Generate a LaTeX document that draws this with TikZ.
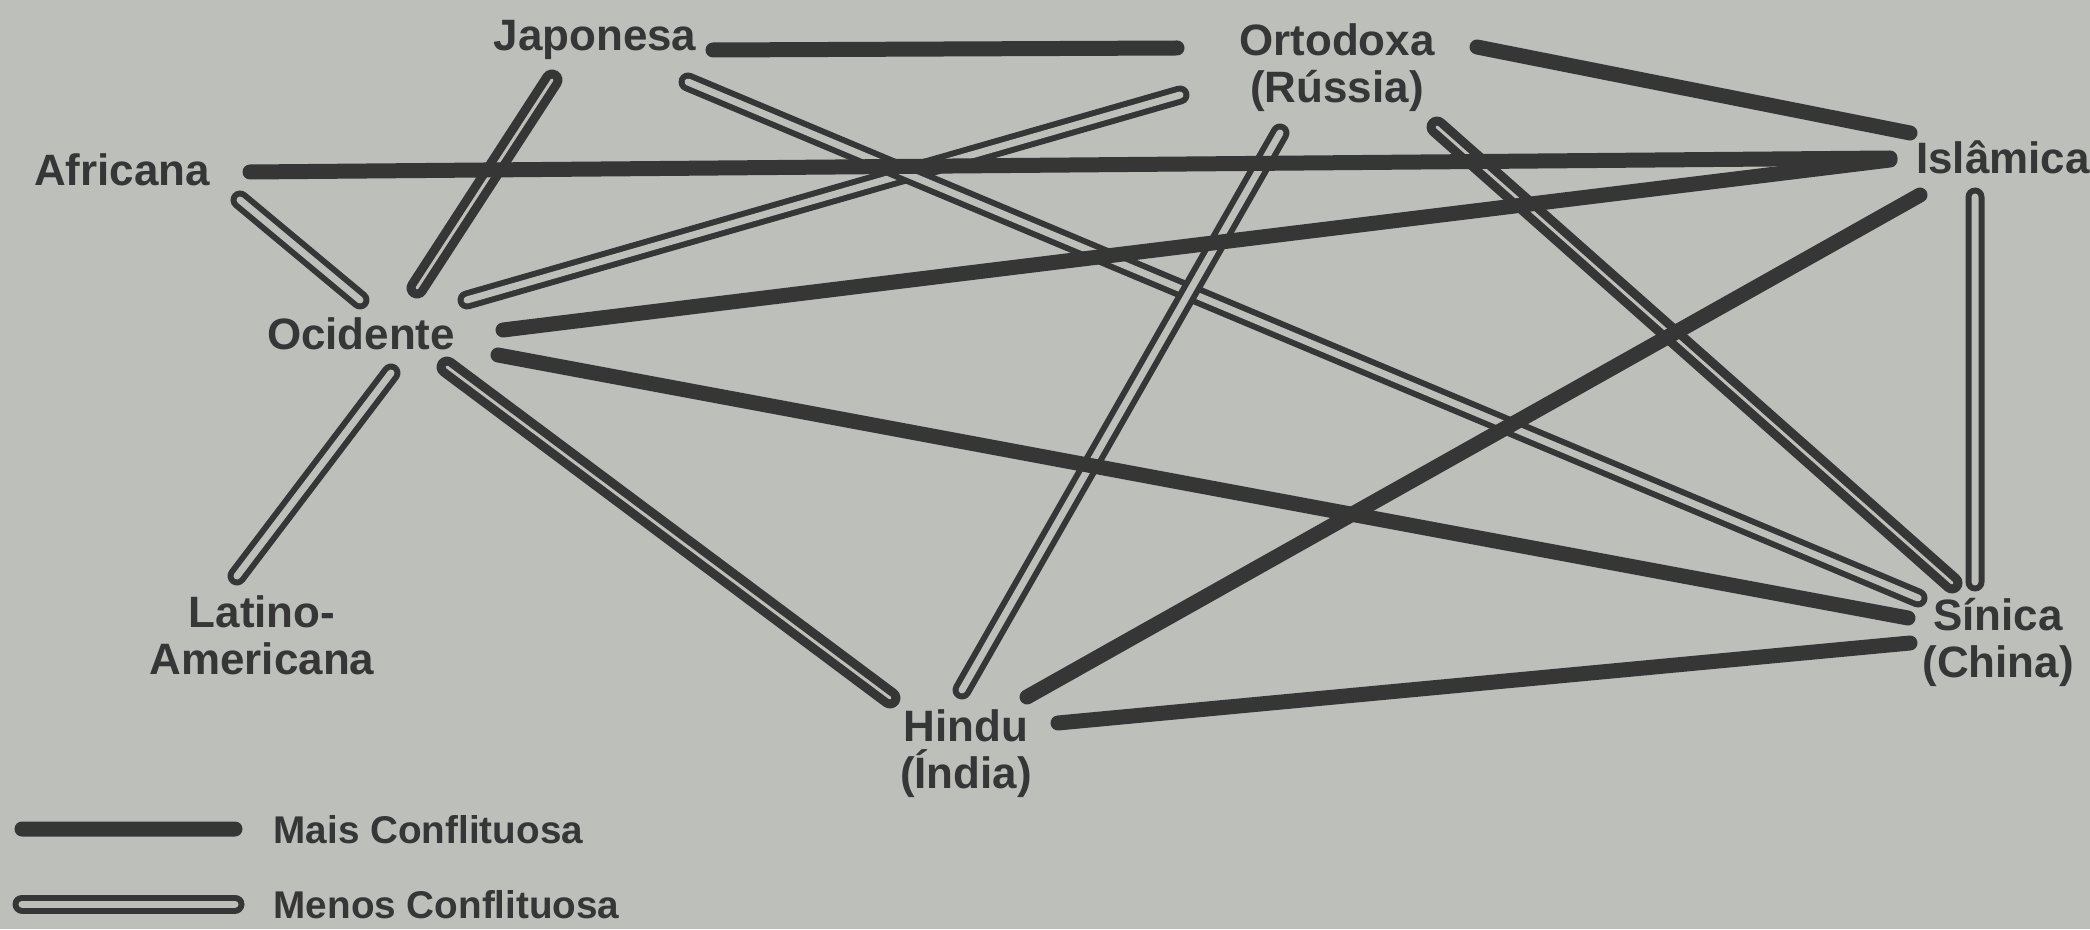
\documentclass[tikz,border=0pt]{standalone}
\usepackage{fontspec}
\setmainfont{Liberation Sans}
\usetikzlibrary{calc}
\definecolor{papel}{RGB}{189,191,187}
\definecolor{tinta}{RGB}{54,54,54}

\begin{document}
\begin{tikzpicture}[
    rotulo/.style={text=tinta, font=\bfseries\fontsize{12.5}{13.4}\selectfont, align=center, inner sep=0pt},
    mais/.style={draw=tinta, line width=0.15cm, line cap=round},
    menos/.style={draw=tinta, line width=0.06cm, double=papel, double distance=0.07cm, line cap=round},
    menosescura/.style={menos, line width=0.09cm, double distance=0.03cm}]
  \fill[papel] (0,0) rectangle (20.9,9.29);
  \useasboundingbox (0,0) rectangle (20.9,9.29);

  % civilizacoes
  \node[rotulo] (jap) at (5.95,8.89) {Japonesa};
  \node[rotulo] (ort) at (13.37,8.61) {Ortodoxa\\(Rússia)};
  \node[rotulo] (afr) at (1.22,7.59) {Africana};
  \node[rotulo] (isl) at (20.03,7.72) {Islâmica};
  \node[rotulo] (oci) at (3.61,5.95) {Ocidente};
  \node[rotulo] (lat) at (2.62,2.94) {Latino-\\Americana};
  \node[rotulo] (hin) at (9.66,1.75) {Hindu\\(Índia)};
  \node[rotulo] (sin) at (19.98,2.87) {Sínica\\(China)};

  % menos conflituosa
  \draw[menos] ($(afr)+(1.18,-0.30)$) -- ($(oci)+(-0.01,0.34)$);
  \draw[menosescura] ($(jap)+(-0.43,-0.40)$) -- ($(oci)+(0.56,0.46)$);
  \draw[menos] ($(oci)+(1.06,0.34)$) -- ($(ort)+(-1.57,-0.27)$);
  \draw[menos] ($(jap)+(0.93,-0.42)$) -- ($(sin)+(-0.80,0.44)$);
  \draw[menos] ($(ort)+(-0.57,-0.65)$) -- ($(hin)+(-0.04,0.64)$);
  \draw[menosescura] ($(ort)+(1.00,-0.59)$) -- ($(sin)+(-0.46,0.59)$);
  \draw[menos] ($(isl)+(-0.28,-0.40)$) -- ($(sin)+(-0.23,0.60)$);
  \draw[menosescura] ($(oci)+(0.86,-0.33)$) -- ($(hin)+(-0.76,0.56)$);
  \draw[menos] ($(oci)+(0.30,-0.39)$) -- ($(lat)+(-0.25,0.59)$);

  % mais conflituosa
  \draw[mais] ($(jap)+(1.18,-0.10)$) -- ($(ort)+(-1.60,0.20)$);
  \draw[mais] ($(ort)+(1.40,0.21)$) -- ($(isl)+(-0.93,0.24)$);
  \draw[mais] ($(afr)+(1.28,-0.02)$) -- ($(isl)+(-1.13,-0.01)$);
  \draw[mais] ($(oci)+(1.42,0.04)$) -- ($(isl)+(-1.13,-0.03)$);
  \draw[mais] ($(isl)+(-0.83,-0.38)$) -- ($(hin)+(0.61,0.57)$);
  \draw[mais] ($(oci)+(1.37,-0.21)$) -- ($(sin)+(-0.90,0.24)$);
  \draw[mais] ($(hin)+(0.92,0.31)$) -- ($(sin)+(-0.88,-0.01)$);

  % legenda
  \node[rotulo, anchor=west, font=\bfseries\fontsize{11}{13}\selectfont] (legmais) at (2.73,0.99) {Mais Conflituosa};
  \node[rotulo, anchor=west, font=\bfseries\fontsize{11}{13}\selectfont] (legmenos) at (2.73,0.24) {Menos Conflituosa};
  \coordinate (m0) at (0.22,1.00);
  \coordinate (n0) at (0.22,0.25);
  \draw[mais] (m0) -- ($(legmais.west)+(-0.38,0.01)$);
  \draw[menos] (n0) -- ($(legmenos.west)+(-0.38,0.01)$);
\end{tikzpicture}
\end{document}
